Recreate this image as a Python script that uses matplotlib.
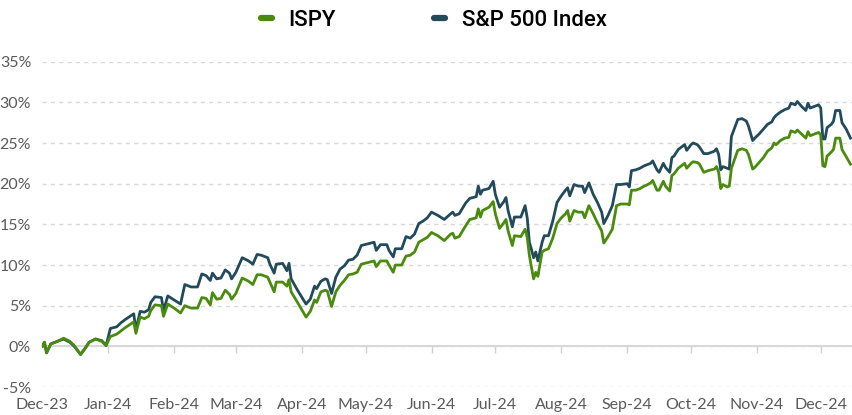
import numpy as np
import pandas as pd
import matplotlib
matplotlib.use("Agg")
import matplotlib.pyplot as plt
from matplotlib.lines import Line2D

# cumulative return (%), day offsets from the first date
start_date = "2023-12-17"
days = [0, 1, 2, 4, 7, 10, 13, 15, 18, 20,
        22, 25, 28, 30, 32, 35, 37, 39, 43, 44,
        46, 48, 50, 51, 53, 56, 57, 59, 62, 65,
        67, 70, 73, 75, 77, 79, 80, 82, 84, 86,
        88, 89, 91, 94, 97, 99, 101, 103, 106, 107,
        109, 110, 113, 115, 116, 117, 120, 124, 126, 128,
        129, 131, 133, 134, 136, 138, 140, 142, 144, 146,
        148, 150, 153, 156, 157, 159, 162, 163, 165, 166,
        169, 171, 173, 175, 177, 179, 181, 183, 186, 189,
        192, 193, 194, 196, 199, 201, 204, 205, 206, 207,
        210, 212, 213, 215, 217, 218, 219, 221, 222, 225,
        227, 228, 229, 230, 231, 232, 233, 235, 236, 238,
        240, 242, 244, 246, 247, 248, 250, 252, 254, 255,
        257, 259, 261, 263, 264, 266, 268, 270, 272, 275,
        276, 277, 279, 281, 283, 284, 286, 287, 289, 290,
        292, 293, 295, 296, 297, 299, 301, 302, 303, 305,
        306, 308, 309, 311, 313, 316, 317, 318, 319, 320,
        322, 323, 324, 327, 329, 331, 332, 334, 335, 337,
        339, 341, 343, 344, 345, 347, 349, 351, 352, 354,
        355, 357, 359, 360, 361, 363, 365, 366, 367, 368,
        369, 371, 372, 373, 375, 376, 378, 380]

sp500 = [0.0, 0.5, -0.8, 0.3, 0.6, 0.9, 0.5, 0.0, -1.0, -0.3,
         0.5, 0.9, 0.7, 0.1, 2.2, 2.4, 2.9, 3.3, 4.0, 2.0,
         4.3, 4.2, 4.5, 5.4, 6.1, 6.0, 4.4, 6.2, 5.7, 5.2,
         7.6, 7.3, 7.3, 8.9, 8.7, 8.1, 9.0, 8.3, 8.4, 9.4,
         9.0, 8.3, 9.1, 10.9, 10.5, 10.1, 11.3, 11.2, 10.9, 10.1,
         9.0, 10.1, 10.2, 9.3, 10.2, 8.3, 6.9, 5.2, 5.8, 7.4,
         7.1, 8.0, 8.3, 8.2, 6.5, 8.5, 9.5, 9.9, 10.6, 10.7,
         11.2, 12.4, 12.6, 12.8, 11.8, 12.5, 12.5, 11.8, 11.0, 12.0,
         12.0, 13.5, 13.3, 13.8, 15.1, 15.4, 15.8, 16.5, 16.1, 15.6,
         16.3, 16.5, 16.1, 16.3, 17.6, 18.2, 18.4, 19.7, 18.7, 19.2,
         19.4, 20.3, 18.7, 17.1, 17.8, 18.3, 16.7, 14.7, 15.9, 15.9,
         17.3, 15.8, 12.8, 11.9, 10.9, 11.6, 10.5, 12.8, 13.6, 13.6,
         15.4, 17.7, 18.5, 19.2, 19.5, 18.5, 19.9, 19.7, 19.7, 18.9,
         20.1, 18.7, 17.7, 16.5, 15.1, 16.1, 17.3, 19.9, 19.9, 20.0,
         19.6, 21.6, 21.7, 21.9, 22.2, 22.3, 22.5, 22.8, 21.7, 21.4,
         22.5, 22.0, 21.4, 23.2, 23.4, 24.2, 24.6, 24.8, 24.1, 24.8,
         25.0, 24.8, 24.5, 23.7, 23.7, 24.0, 24.3, 23.6, 21.7, 22.1,
         21.9, 21.8, 25.8, 27.9, 28.0, 27.7, 27.1, 25.3, 25.6, 26.1,
         26.7, 27.3, 27.6, 28.1, 28.4, 28.8, 29.1, 29.3, 29.9, 29.7,
         30.1, 29.5, 29.0, 29.9, 29.3, 29.5, 29.7, 29.3, 25.5, 25.5,
         26.9, 27.3, 27.7, 29.0, 29.0, 27.5, 26.7, 25.6]

ispy = [0.0, 0.5, -0.8, 0.3, 0.6, 1.0, 0.6, 0.1, -1.0, -0.3,
        0.5, 0.9, 0.6, 0.1, 1.2, 1.5, 1.9, 2.3, 3.0, 1.6,
        3.6, 3.4, 3.7, 4.4, 5.1, 5.0, 3.7, 5.2, 4.7, 4.1,
        5.0, 4.7, 4.7, 6.0, 5.9, 5.1, 6.6, 5.8, 5.9, 6.9,
        6.4, 5.8, 6.5, 8.4, 8.0, 7.6, 8.8, 8.8, 8.5, 7.9,
        6.7, 7.9, 7.9, 7.4, 8.2, 6.7, 5.4, 3.6, 4.3, 5.7,
        5.4, 6.7, 6.9, 6.8, 4.9, 6.7, 7.5, 8.1, 8.8, 8.9,
        9.1, 10.1, 10.3, 10.5, 9.8, 10.5, 10.5, 10.0, 9.1, 10.0,
        10.0, 11.1, 11.2, 11.6, 12.8, 13.1, 13.4, 14.0, 13.6, 13.0,
        13.8, 13.9, 13.3, 13.5, 14.8, 15.6, 15.8, 16.9, 15.9, 16.7,
        17.1, 17.8, 16.3, 14.5, 15.2, 15.6, 14.2, 12.4, 13.6, 13.5,
        14.4, 13.4, 11.2, 9.7, 8.3, 9.1, 8.6, 11.6, 11.8, 12.0,
        13.3, 15.1, 15.8, 16.3, 16.7, 15.4, 16.7, 16.5, 16.5, 15.8,
        17.3, 16.3, 15.2, 14.2, 12.7, 13.5, 14.4, 17.3, 17.5, 17.5,
        17.4, 19.2, 19.2, 19.4, 19.7, 19.8, 20.1, 20.4, 19.2, 19.2,
        20.3, 19.7, 19.1, 21.0, 21.2, 21.9, 22.3, 22.5, 21.9, 22.5,
        22.7, 22.6, 22.4, 21.4, 21.6, 21.8, 22.1, 21.4, 19.4, 19.9,
        19.6, 19.7, 21.9, 24.1, 24.3, 24.1, 23.6, 21.8, 22.0, 22.6,
        23.2, 24.0, 24.4, 25.0, 24.8, 25.3, 25.6, 25.7, 26.5, 26.3,
        26.6, 26.1, 25.6, 26.4, 25.9, 26.1, 26.3, 26.0, 22.2, 22.1,
        23.4, 23.9, 24.2, 25.6, 25.6, 24.2, 23.3, 22.4]

series_names = ["ISPY", "S&P 500 Index"]
series_colors = ["#4a8a0e", "#234a5b"]
y_ticks = [-5, 0, 5, 10, 15, 20, 25, 30, 35]

dates = pd.Timestamp(start_date) + pd.to_timedelta(days, unit="D")
month_ticks = pd.date_range(start_date, periods=13, freq=pd.DateOffset(months=1))

plt.rcParams["font.family"] = ["Lato", "DejaVu Sans"]

fig = plt.figure(figsize=(8.52, 4.15), dpi=100)
ax = fig.add_axes([42.3 / 852, 1 - 387 / 415, 1 - 42.3 / 852, (387 - 61.7) / 415])

ax.plot(dates, sp500, color=series_colors[1], lw=2.0, solid_joinstyle="round", zorder=3)
ax.plot(dates, ispy, color=series_colors[0], lw=2.0, solid_joinstyle="round", zorder=4)

ax.set_ylim(-5, 35)
ax.set_xlim(pd.Timestamp(start_date), pd.Timestamp(start_date) + pd.Timedelta(days=380.7))
ax.set_yticks(y_ticks)
ax.set_yticklabels([f"{v}%" for v in y_ticks])
ax.set_xticks(month_ticks)
ax.set_xticklabels([d.strftime("%b-%y") for d in month_ticks])
ax.tick_params(axis="both", length=0, labelsize=11.5, labelcolor="#5a5a5a")
ax.tick_params(axis="y", pad=8)
ax.tick_params(axis="x", pad=8)

for s in ax.spines.values():
    s.set_visible(False)
ax.yaxis.grid(True, color="#d9d9d9", lw=1, linestyle=(0, (3, 3)))
ax.set_axisbelow(True)

# zero line with the month tick marks
zero = ax.secondary_xaxis(5 / 40)
zero.set_xticks(month_ticks[1:])
zero.set_xticklabels([])
zero.tick_params(length=5, color="#d0d0d0", width=1)
zero.spines["bottom"].set_color("#d0d0d0")
zero.spines["bottom"].set_linewidth(1.2)

handles = [Line2D([0], [0], color=c, lw=4.5, solid_capstyle="round") for c in series_colors]
fig.legend(handles, series_names, loc="upper center", bbox_to_anchor=(0.509, 1.025), ncol=2,
           frameon=False, handlelength=0.5, handletextpad=0.75, columnspacing=4.4,
           prop={"family": ["Roboto", "DejaVu Sans"], "size": 16, "weight": "medium"})

fig.savefig("out.png", dpi=100)
